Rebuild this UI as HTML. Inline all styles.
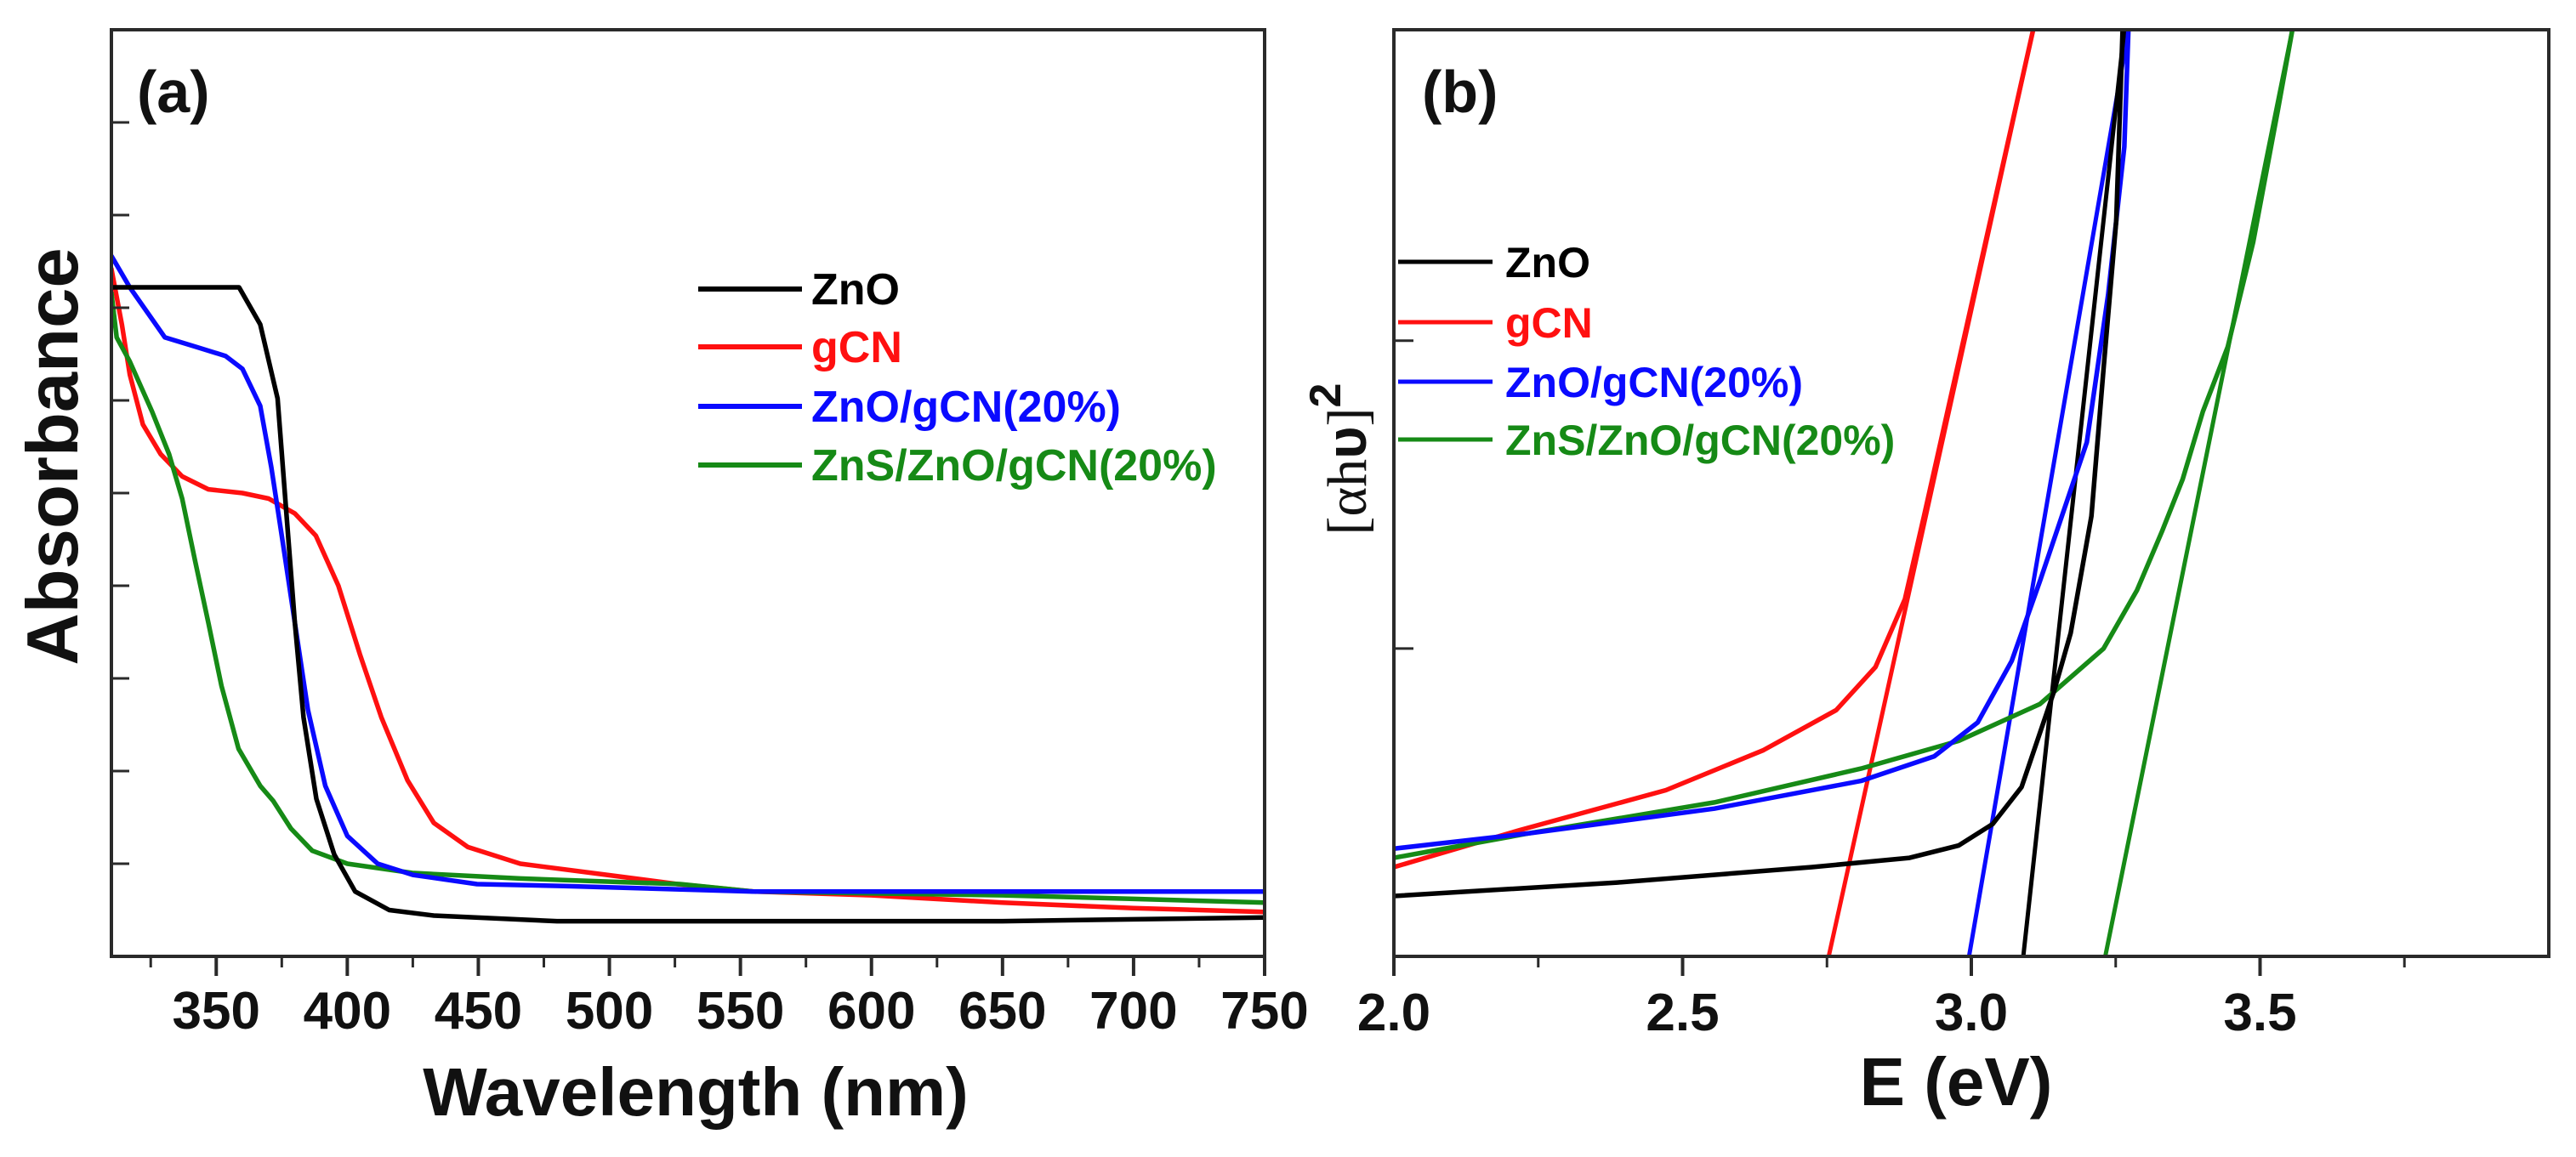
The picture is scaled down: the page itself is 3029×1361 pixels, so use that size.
<!DOCTYPE html>
<html><head><meta charset="utf-8"><style>
html,body{margin:0;padding:0;background:#fff}
svg{display:block}
text{font-family:"Liberation Sans",Arial,sans-serif;font-weight:bold}
</style></head><body>
<svg id="fig" width="3029" height="1361" viewBox="0 0 3029 1361" xmlns="http://www.w3.org/2000/svg">
<g id="pa"></g>
<g id="pb"></g>
</svg>
<script>
// ---------- Panel (a) data ----------
const aXTicks = [350,400,450,500,550,600,650,700,750];
const aMinorTicks = [325,375,425,475,525,575,625,675,725];
const aYTicks = [0.5,1,1.5,2,2.5,3,3.5,4,4.5];
const aZnO_x = [310,320,340,358.7,366.8,373.4,376.7,380,383.3,388.2,395,403,416,433,480,550,650,750];
const aZnO_y = [3.61,3.61,3.61,3.61,3.41,3.01,2.40,1.80,1.29,0.85,0.55,0.35,0.25,0.22,0.19,0.19,0.19,0.21];
const aGCN_x = [310,314,317,322,328.8,337,347,360,370,380,388,396.6,404.8,413,423,433,446,466,499,526,555,600,650,700,750];
const aGCN_y = [3.71,3.41,3.14,2.87,2.71,2.59,2.52,2.50,2.47,2.39,2.27,2.0,1.63,1.29,0.95,0.72,0.59,0.50,0.44,0.39,0.35,0.33,0.29,0.26,0.24];
const aBlue_x = [310,317,330.4,342,353.5,360,366.8,371,375,380,385,391.6,400,411.6,425,449.5,482.6,555,650,750];
const aBlue_y = [3.78,3.61,3.34,3.29,3.24,3.17,2.97,2.64,2.27,1.80,1.33,0.92,0.65,0.50,0.44,0.39,0.38,0.35,0.35,0.35];
const aGreen_x = [310,312,317,325.5,332,337,342,347,352,358.5,366.8,371.7,378.5,386.6,400,424.8,466,527,555,600,650,700,750];
const aGreen_y = [3.58,3.34,3.21,2.94,2.71,2.47,2.13,1.80,1.46,1.12,0.92,0.84,0.69,0.57,0.50,0.45,0.42,0.39,0.35,0.34,0.33,0.31,0.29];

// ---------- Panel (b) data ----------
const bXTicks = [2.0,2.5,3.0,3.5];
const bMinorTicks = [2.25,2.75,3.25,3.75];
const bYTicks = [1,2];
const bZnO_x = [2.0,2.387,2.724,2.893,2.978,3.037,3.087,3.143,3.172,3.208,3.229,3.251,3.262];
const bZnO_y = [0.196,0.24,0.29,0.32,0.36,0.43,0.55,0.86,1.05,1.43,1.91,2.39,3.01];
const bGCN_x = [2.0,2.218,2.471,2.64,2.766,2.834,2.885,2.918,3.107];
const bGCN_y = [0.29,0.41,0.54,0.67,0.80,0.94,1.16,1.43,3.01];
const bBlue_x = [2.0,2.235,2.555,2.809,2.936,3.011,3.07,3.119,3.2,3.237,3.265,3.272];
const bBlue_y = [0.35,0.40,0.48,0.57,0.65,0.76,0.96,1.22,1.67,2.15,2.63,3.01];
const bGreen_x = [2.0,2.235,2.555,2.809,2.978,3.119,3.229,3.287,3.33,3.366,3.401,3.444,3.488,3.531,3.556];
const bGreen_y = [0.32,0.40,0.50,0.61,0.70,0.82,1.00,1.19,1.38,1.55,1.77,1.98,2.32,2.75,3.01];
const bFitZnO_x = [3.09,3.265];
const bFitZnO_y = [0,3.01];
const bFitGCN_x = [2.753,3.107];
const bFitGCN_y = [0,3.01];
const bFitBlue_x = [2.996,3.272];
const bFitBlue_y = [0,3.01];
const bFitGreen_x = [3.232,3.556];
const bFitGreen_y = [0,3.01];

const NS="http://www.w3.org/2000/svg";
function mk(parent,tag,attrs){const e=document.createElementNS(NS,tag);for(const k in attrs)e.setAttribute(k,attrs[k]);parent.appendChild(e);return e;}
const COL={black:"#000000",red:"#ff1010",blue:"#0a0aff",green:"#168a16"};

// Panel A axes
const A={l:131,r:1487,t:35,b:1125,x0:310,x1:750,y0:0,y1:5};
const ax=v=>A.l+(v-A.x0)/(A.x1-A.x0)*(A.r-A.l);
const ay=v=>A.b-(v-A.y0)/(A.y1-A.y0)*(A.b-A.t);
const B={l:1639,r:2997,t:35,b:1125,x0:2.0,x1:4.0,y0:0,y1:3.01};
const bx=v=>B.l+(v-B.x0)/(B.x1-B.x0)*(B.r-B.l);
const by=v=>B.b-(v-B.y0)/(B.y1-B.y0)*(B.b-B.t);

const pa=document.getElementById('pa'), pb=document.getElementById('pb');

function series(g,xs,ys,fx,fy,color,name,w){
  const pts=xs.map((x,i)=>fx(x).toFixed(1)+","+fy(ys[i]).toFixed(1)).join(" ");
  const p=mk(g,'polyline',{points:pts,fill:'none',stroke:color,'stroke-width':w||5.5,'stroke-linejoin':'round','stroke-linecap':'round'});
  
  
  return p;
}

// clip paths
const defs=mk(document.getElementById('fig'),'defs',{});
const ca=mk(defs,'clipPath',{id:'clipA'});mk(ca,'rect',{x:A.l,y:A.t,width:A.r-A.l,height:A.b-A.t});
const cb=mk(defs,'clipPath',{id:'clipB'});mk(cb,'rect',{x:B.l,y:B.t,width:B.r-B.l,height:B.b-B.t});

// ---- Panel A ----
const gaS=mk(pa,'g',{'clip-path':'url(#clipA)'});


series(gaS,aGCN_x,aGCN_y,ax,ay,COL.red,'gcn-absorbance-line');
series(gaS,aGreen_x,aGreen_y,ax,ay,COL.green,'zns-zno-gcn-absorbance-line');
series(gaS,aBlue_x,aBlue_y,ax,ay,COL.blue,'zno-gcn-absorbance-line');
series(gaS,aZnO_x,aZnO_y,ax,ay,COL.black,'zno-absorbance-line');

const fa=mk(pa,'rect',{x:A.l,y:A.t,width:A.r-A.l,height:A.b-A.t,fill:'none',stroke:'#2a2a2a','stroke-width':4});


aXTicks.forEach(v=>{
  const t=mk(pa,'line',{x1:ax(v),x2:ax(v),y1:A.b,y2:A.b+23,stroke:'#2a2a2a','stroke-width':4});
  
  
  const l=mk(pa,'text',{x:ax(v),y:1210,'font-size':62,'text-anchor':'middle',fill:'#111'});
  l.textContent=v;
  
  
});
aMinorTicks.forEach(v=>{
  const t=mk(pa,'line',{x1:ax(v),x2:ax(v),y1:A.b,y2:A.b+13,stroke:'#2a2a2a','stroke-width':3});
  
  
});
aYTicks.forEach(v=>{
  const t=mk(pa,'line',{x1:A.l,x2:A.l+21,y1:ay(v),y2:ay(v),stroke:'#2a2a2a','stroke-width':3});
  
  
});

// ---- Panel B ----
const gbS=mk(pb,'g',{'clip-path':'url(#clipB)'});


series(gbS,bFitGCN_x,bFitGCN_y,bx,by,COL.red,'gcn-tangent-line',5);
series(gbS,bFitBlue_x,bFitBlue_y,bx,by,COL.blue,'zno-gcn-tangent-line',5);
series(gbS,bFitZnO_x,bFitZnO_y,bx,by,COL.black,'zno-tangent-line',5);
series(gbS,bFitGreen_x,bFitGreen_y,bx,by,COL.green,'zns-zno-gcn-tangent-line',5);
series(gbS,bGCN_x,bGCN_y,bx,by,COL.red,'gcn-tauc-line');
series(gbS,bGreen_x,bGreen_y,bx,by,COL.green,'zns-zno-gcn-tauc-line');
series(gbS,bBlue_x,bBlue_y,bx,by,COL.blue,'zno-gcn-tauc-line');
series(gbS,bZnO_x,bZnO_y,bx,by,COL.black,'zno-tauc-line');

const fb=mk(pb,'rect',{x:B.l,y:B.t,width:B.r-B.l,height:B.b-B.t,fill:'none',stroke:'#2a2a2a','stroke-width':4});


bXTicks.forEach(v=>{
  const t=mk(pb,'line',{x1:bx(v),x2:bx(v),y1:B.b,y2:B.b+23,stroke:'#2a2a2a','stroke-width':4});
  
  
  const l=mk(pb,'text',{x:bx(v),y:1212,'font-size':62,'text-anchor':'middle',fill:'#111'});
  l.textContent=v.toFixed(1);
  
  
});
bMinorTicks.forEach(v=>{
  const t=mk(pb,'line',{x1:bx(v),x2:bx(v),y1:B.b,y2:B.b+13,stroke:'#2a2a2a','stroke-width':3});
  
  
});
bYTicks.forEach(v=>{
  const t=mk(pb,'line',{x1:B.l,x2:B.l+23,y1:by(v),y2:by(v),stroke:'#2a2a2a','stroke-width':3});
  
  
});
</script>
<svg width="0" height="0" style="position:absolute"></svg>
<script>
// static labels and legends (added after series so they render on top)
(function(){
const NS="http://www.w3.org/2000/svg";
const svg=document.getElementById('fig');
function add(html){svg.insertAdjacentHTML('beforeend',html);}
add(`<text x="161" y="132" font-size="70" fill="#111">(a)</text>
<text x="1672" y="132" font-size="70" fill="#111">(b)</text>
<text x="818" y="1312" font-size="80" text-anchor="middle" fill="#111">Wavelength (nm)</text>
<text x="2300" y="1300" font-size="80" text-anchor="middle" fill="#111">E (eV)</text>
<text transform="translate(91,537) rotate(-90)" font-size="85" text-anchor="middle" fill="#111">Absorbance</text>
<text transform="translate(1606,540) rotate(-90)" font-size="66" text-anchor="middle" fill="#111" style="font-family:'Liberation Serif',serif;font-weight:normal">[αh<tspan style="font-family:'Liberation Sans',sans-serif;font-weight:bold">υ</tspan>]<tspan dy="-30" font-size="52" style="font-family:'Liberation Sans',sans-serif;font-weight:bold">2</tspan></text>
<g>
<line x1="821" x2="943" y1="340" y2="340" stroke="#000" stroke-width="6"/>
<text x="954" y="358" font-size="52" fill="#000">ZnO</text>
<line x1="821" x2="943" y1="408" y2="408" stroke="#ff1010" stroke-width="6"/>
<text x="954" y="426" font-size="52" fill="#ff1010">gCN</text>
<line x1="821" x2="943" y1="478" y2="478" stroke="#0a0aff" stroke-width="6"/>
<text x="954" y="496" font-size="52" fill="#0a0aff">ZnO/gCN(20%)</text>
<line x1="821" x2="943" y1="547" y2="547" stroke="#168a16" stroke-width="6"/>
<text x="954" y="565" font-size="52" fill="#168a16">ZnS/ZnO/gCN(20%)</text>
</g>
<g>
<line x1="1644" x2="1755" y1="308" y2="308" stroke="#000" stroke-width="5"/>
<text x="1770" y="326" font-size="50" fill="#000">ZnO</text>
<line x1="1644" x2="1755" y1="379" y2="379" stroke="#ff1010" stroke-width="5"/>
<text x="1770" y="397" font-size="50" fill="#ff1010">gCN</text>
<line x1="1644" x2="1755" y1="449" y2="449" stroke="#0a0aff" stroke-width="5"/>
<text x="1770" y="467" font-size="50" fill="#0a0aff">ZnO/gCN(20%)</text>
<line x1="1644" x2="1755" y1="517" y2="517" stroke="#168a16" stroke-width="5"/>
<text x="1770" y="535" font-size="50" fill="#168a16">ZnS/ZnO/gCN(20%)</text>
</g>`);
})();
</script>
</body></html>
